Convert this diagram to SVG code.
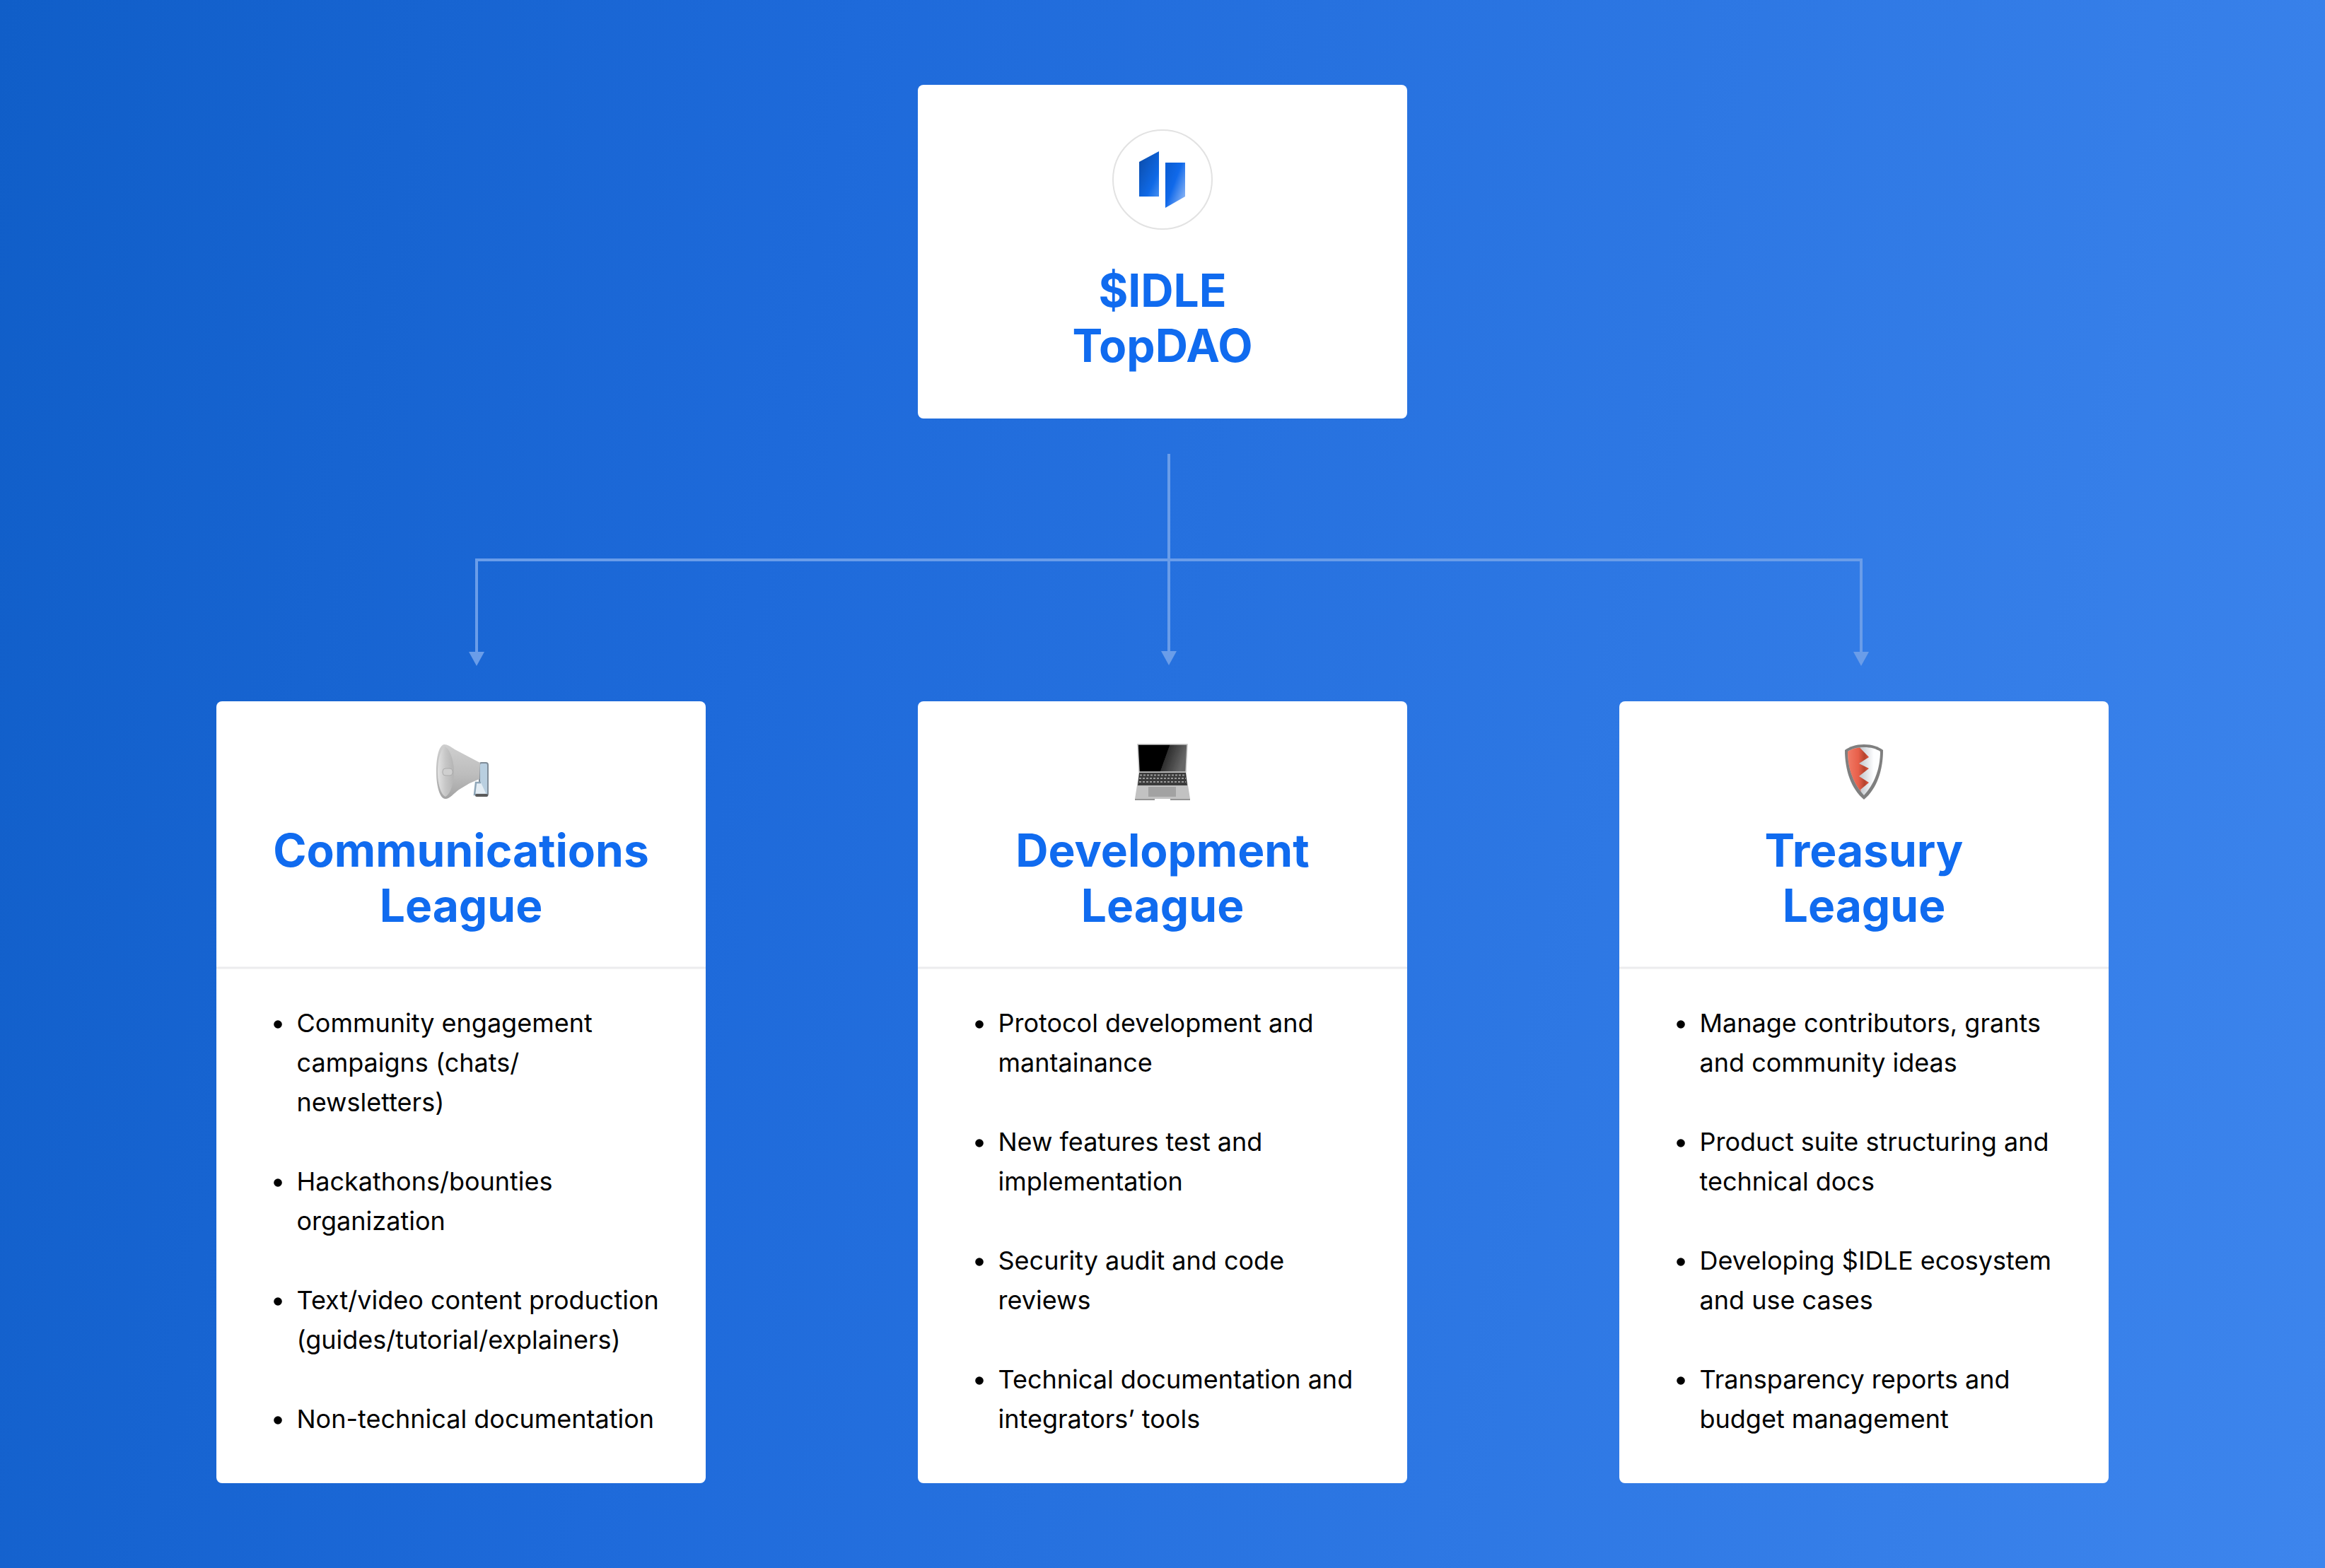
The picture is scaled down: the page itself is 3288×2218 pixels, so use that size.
<svg xmlns="http://www.w3.org/2000/svg" width="3288" height="2218" viewBox="0 0 3288 2218">
<style>
.card{fill:#fff}
.title{font-family:Inter,"Liberation Sans",sans-serif;font-weight:700;font-size:64px;fill:#106BEF;text-anchor:middle}
.body{font-family:Inter,"Liberation Sans",sans-serif;font-weight:400;font-size:36px;fill:#000}
.div{stroke:#ECECEE;stroke-width:3}
.wire{fill:none;stroke:#6A9DE9;stroke-width:4}
.head{fill:#6A9DE9}
</style>
<defs>
<linearGradient id="bg" gradientUnits="userSpaceOnUse" x1="0" y1="0" x2="3575" y2="658"><stop offset="0" stop-color="#105EC8"/><stop offset="0.33" stop-color="#1E6ADA"/><stop offset="1" stop-color="#3D85ED"/></linearGradient>
<linearGradient id="l1" x1="0.1" y1="0.1" x2="0.9" y2="1"><stop offset="0" stop-color="#0B4EAE"/><stop offset="0.7" stop-color="#0F69E6"/><stop offset="1" stop-color="#3E8AF0"/></linearGradient>
<linearGradient id="l2" x1="0.1" y1="0.2" x2="0.9" y2="0.9"><stop offset="0" stop-color="#0B5FD8"/><stop offset="0.4" stop-color="#1069EA"/><stop offset="1" stop-color="#8AB4F5"/></linearGradient>
<linearGradient id="hornG" x1="0" y1="0" x2="0" y2="1"><stop offset="0" stop-color="#CFCFCF"/><stop offset="0.55" stop-color="#BDBDBD"/><stop offset="1" stop-color="#A3A3A3"/></linearGradient>
<linearGradient id="bellG" x1="0" y1="0" x2="1" y2="0"><stop offset="0" stop-color="#E2E2E2"/><stop offset="0.5" stop-color="#C6C6C6"/><stop offset="1" stop-color="#B4B4B4"/></linearGradient>
<linearGradient id="shieldG" gradientUnits="userSpaceOnUse" x1="2613" y1="0" x2="2643" y2="0"><stop offset="0" stop-color="#F07A66"/><stop offset="0.5" stop-color="#E8604A"/><stop offset="0.8" stop-color="#B5432E"/><stop offset="1" stop-color="#E0553C"/></linearGradient>
<linearGradient id="silverG" x1="0" y1="0" x2="1" y2="0"><stop offset="0.3" stop-color="#B9BEC4"/><stop offset="0.8" stop-color="#FDFEFF"/></linearGradient>
<linearGradient id="screenG" x1="0" y1="0" x2="1" y2="0.2"><stop offset="0.62" stop-color="#000"/><stop offset="0.63" stop-color="#2E2E2E"/><stop offset="1" stop-color="#666"/></linearGradient>
<filter id="soft" x="-5%" y="-5%" width="110%" height="110%"><feGaussianBlur stdDeviation="0.5"/></filter>
<g id="bullet"><circle r="5.8" fill="#000"/></g>
</defs>
<rect width="3288" height="2218" fill="url(#bg)"/>
<g id="connectors">
<path class="wire" d="M1653 642V923"/>
<path class="wire" d="M674 925V792H2632V925"/>
<polygon class="head" points="663,922 685,922 674,942"/>
<polygon class="head" points="1642,921 1664,921 1653,941"/>
<polygon class="head" points="2621,922 2643,922 2632,942"/>
</g>
<g id="node-top">
<rect class="card" x="1298" y="120" width="692" height="472" rx="8"/>
<circle cx="1644" cy="254" r="70" fill="#fff" stroke="#E2E2E2" stroke-width="2"/>
<polygon points="1611,229 1639,214 1639,278 1611,278" fill="url(#l1)"/>
<polygon points="1648,230 1676,230 1676,278 1648,294" fill="url(#l2)"/>
<text class="title" x="1644" y="434">$IDLE</text>
<text class="title" x="1644" y="512">TopDAO</text>
</g>
<g id="node-communications">
<rect class="card" x="306" y="992" width="692" height="1106" rx="8"/>
<g id="icon-megaphone" filter="url(#soft)">
<rect x="678" y="1079" width="12" height="47" rx="3" fill="#B9CFE0" stroke="#7F8C98" stroke-width="2"/>
<path d="M680 1107H673L671 1124H688" fill="#E4EDF4" stroke="#8FA6B8" stroke-width="2.5"/>
<rect x="672" y="1123" width="18" height="4" rx="2" fill="#5A5A5A"/>
<path d="M628 1053C633 1053 637 1056 643 1060L660 1069L679 1079L678 1102L664 1108L649 1117C642 1122 636 1130 630 1130C622 1130 617 1112 617 1092C617 1073 620 1055 628 1053Z" fill="url(#hornG)"/>
<path d="M629 1056C622 1060 619 1078 619 1092C619 1108 623 1124 630 1127C638 1122 642 1107 642 1092C642 1077 637 1060 629 1056Z" fill="url(#bellG)"/>
<rect x="626" y="1087" width="14" height="10" rx="4" fill="#CFCFCF" stroke="#ABABAB" stroke-width="1"/>
</g>
<text class="title" x="652" y="1226">Communications</text>
<text class="title" x="652" y="1304">League</text>
<line class="div" x1="306" x2="998" y1="1369" y2="1369"/>
<use href="#bullet" x="393" y="1449"/>
<text class="body" x="419.5" y="1460">Community engagement</text>
<text class="body" x="419.5" y="1516">campaigns (chats/</text>
<text class="body" x="419.5" y="1572">newsletters)</text>
<use href="#bullet" x="393" y="1673"/>
<text class="body" x="419.5" y="1684">Hackathons/bounties</text>
<text class="body" x="419.5" y="1740">organization</text>
<use href="#bullet" x="393" y="1841"/>
<text class="body" x="419.5" y="1852">Text/video content production</text>
<text class="body" x="419.5" y="1908">(guides/tutorial/explainers)</text>
<use href="#bullet" x="393" y="2009"/>
<text class="body" x="419.5" y="2020">Non-technical documentation</text>
</g>
<g id="node-development">
<rect class="card" x="1298" y="992" width="692" height="1106" rx="8"/>
<g id="icon-laptop" filter="url(#soft)">
<path d="M1609 1053H1679L1677 1092H1611Z" fill="url(#screenG)" stroke="#C4C4C4" stroke-width="1.5"/>
<path d="M1611 1092H1677L1683 1130H1605Z" fill="#C2C2C2"/>
<path d="M1611 1093H1677L1679 1111H1609Z" fill="#3A3A3A"/>
<path d="M1612 1096.5H1676M1611 1101H1677M1611 1106H1677" stroke="#9A9A9A" stroke-width="2" stroke-dasharray="3 2"/>
<rect x="1624" y="1113" width="39" height="14" fill="#A2A2A2"/>
<path d="M1605 1130H1633V1132H1605ZM1655 1130H1683V1132H1655Z" fill="#949494"/>
</g>
<text class="title" x="1644" y="1226">Development</text>
<text class="title" x="1644" y="1304">League</text>
<line class="div" x1="1298" x2="1990" y1="1369" y2="1369"/>
<use href="#bullet" x="1385" y="1449"/>
<text class="body" x="1411.5" y="1460">Protocol development and</text>
<text class="body" x="1411.5" y="1516">mantainance</text>
<use href="#bullet" x="1385" y="1617"/>
<text class="body" x="1411.5" y="1628">New features test and</text>
<text class="body" x="1411.5" y="1684">implementation</text>
<use href="#bullet" x="1385" y="1785"/>
<text class="body" x="1411.5" y="1796">Security audit and code</text>
<text class="body" x="1411.5" y="1852">reviews</text>
<use href="#bullet" x="1385" y="1953"/>
<text class="body" x="1411.5" y="1964">Technical documentation and</text>
<text class="body" x="1411.5" y="2020">integrators’ tools</text>
</g>
<g id="node-treasury">
<rect class="card" x="2290" y="992" width="692" height="1106" rx="8"/>
<g id="icon-shield" filter="url(#soft)">
<path d="M2636 1053C2624 1053 2616 1056 2609 1061C2609 1090 2618 1116 2636 1131C2654 1116 2663 1090 2663 1061C2656 1056 2648 1053 2636 1053Z" fill="#7F7F7F"/>
<path d="M2636 1057C2626 1057 2619 1059 2613 1063C2613 1088 2622 1110 2636 1125C2650 1110 2659 1088 2659 1063C2653 1059 2646 1057 2636 1057Z" fill="url(#silverG)"/>
<path d="M2630 1057.500C2623 1058 2618 1060 2613 1063C2613 1086 2620 1105 2632 1120L2631 1117L2643 1107L2629 1098L2643 1087L2629 1080L2643 1071Z" fill="url(#shieldG)"/>
</g>
<text class="title" x="2636" y="1226">Treasury</text>
<text class="title" x="2636" y="1304">League</text>
<line class="div" x1="2290" x2="2982" y1="1369" y2="1369"/>
<use href="#bullet" x="2377" y="1449"/>
<text class="body" x="2403.5" y="1460">Manage contributors, grants</text>
<text class="body" x="2403.5" y="1516">and community ideas</text>
<use href="#bullet" x="2377" y="1617"/>
<text class="body" x="2403.5" y="1628">Product suite structuring and</text>
<text class="body" x="2403.5" y="1684">technical docs</text>
<use href="#bullet" x="2377" y="1785"/>
<text class="body" x="2403.5" y="1796">Developing $IDLE ecosystem</text>
<text class="body" x="2403.5" y="1852">and use cases</text>
<use href="#bullet" x="2377" y="1953"/>
<text class="body" x="2403.5" y="1964">Transparency reports and</text>
<text class="body" x="2403.5" y="2020">budget management</text>
</g>
</svg>
